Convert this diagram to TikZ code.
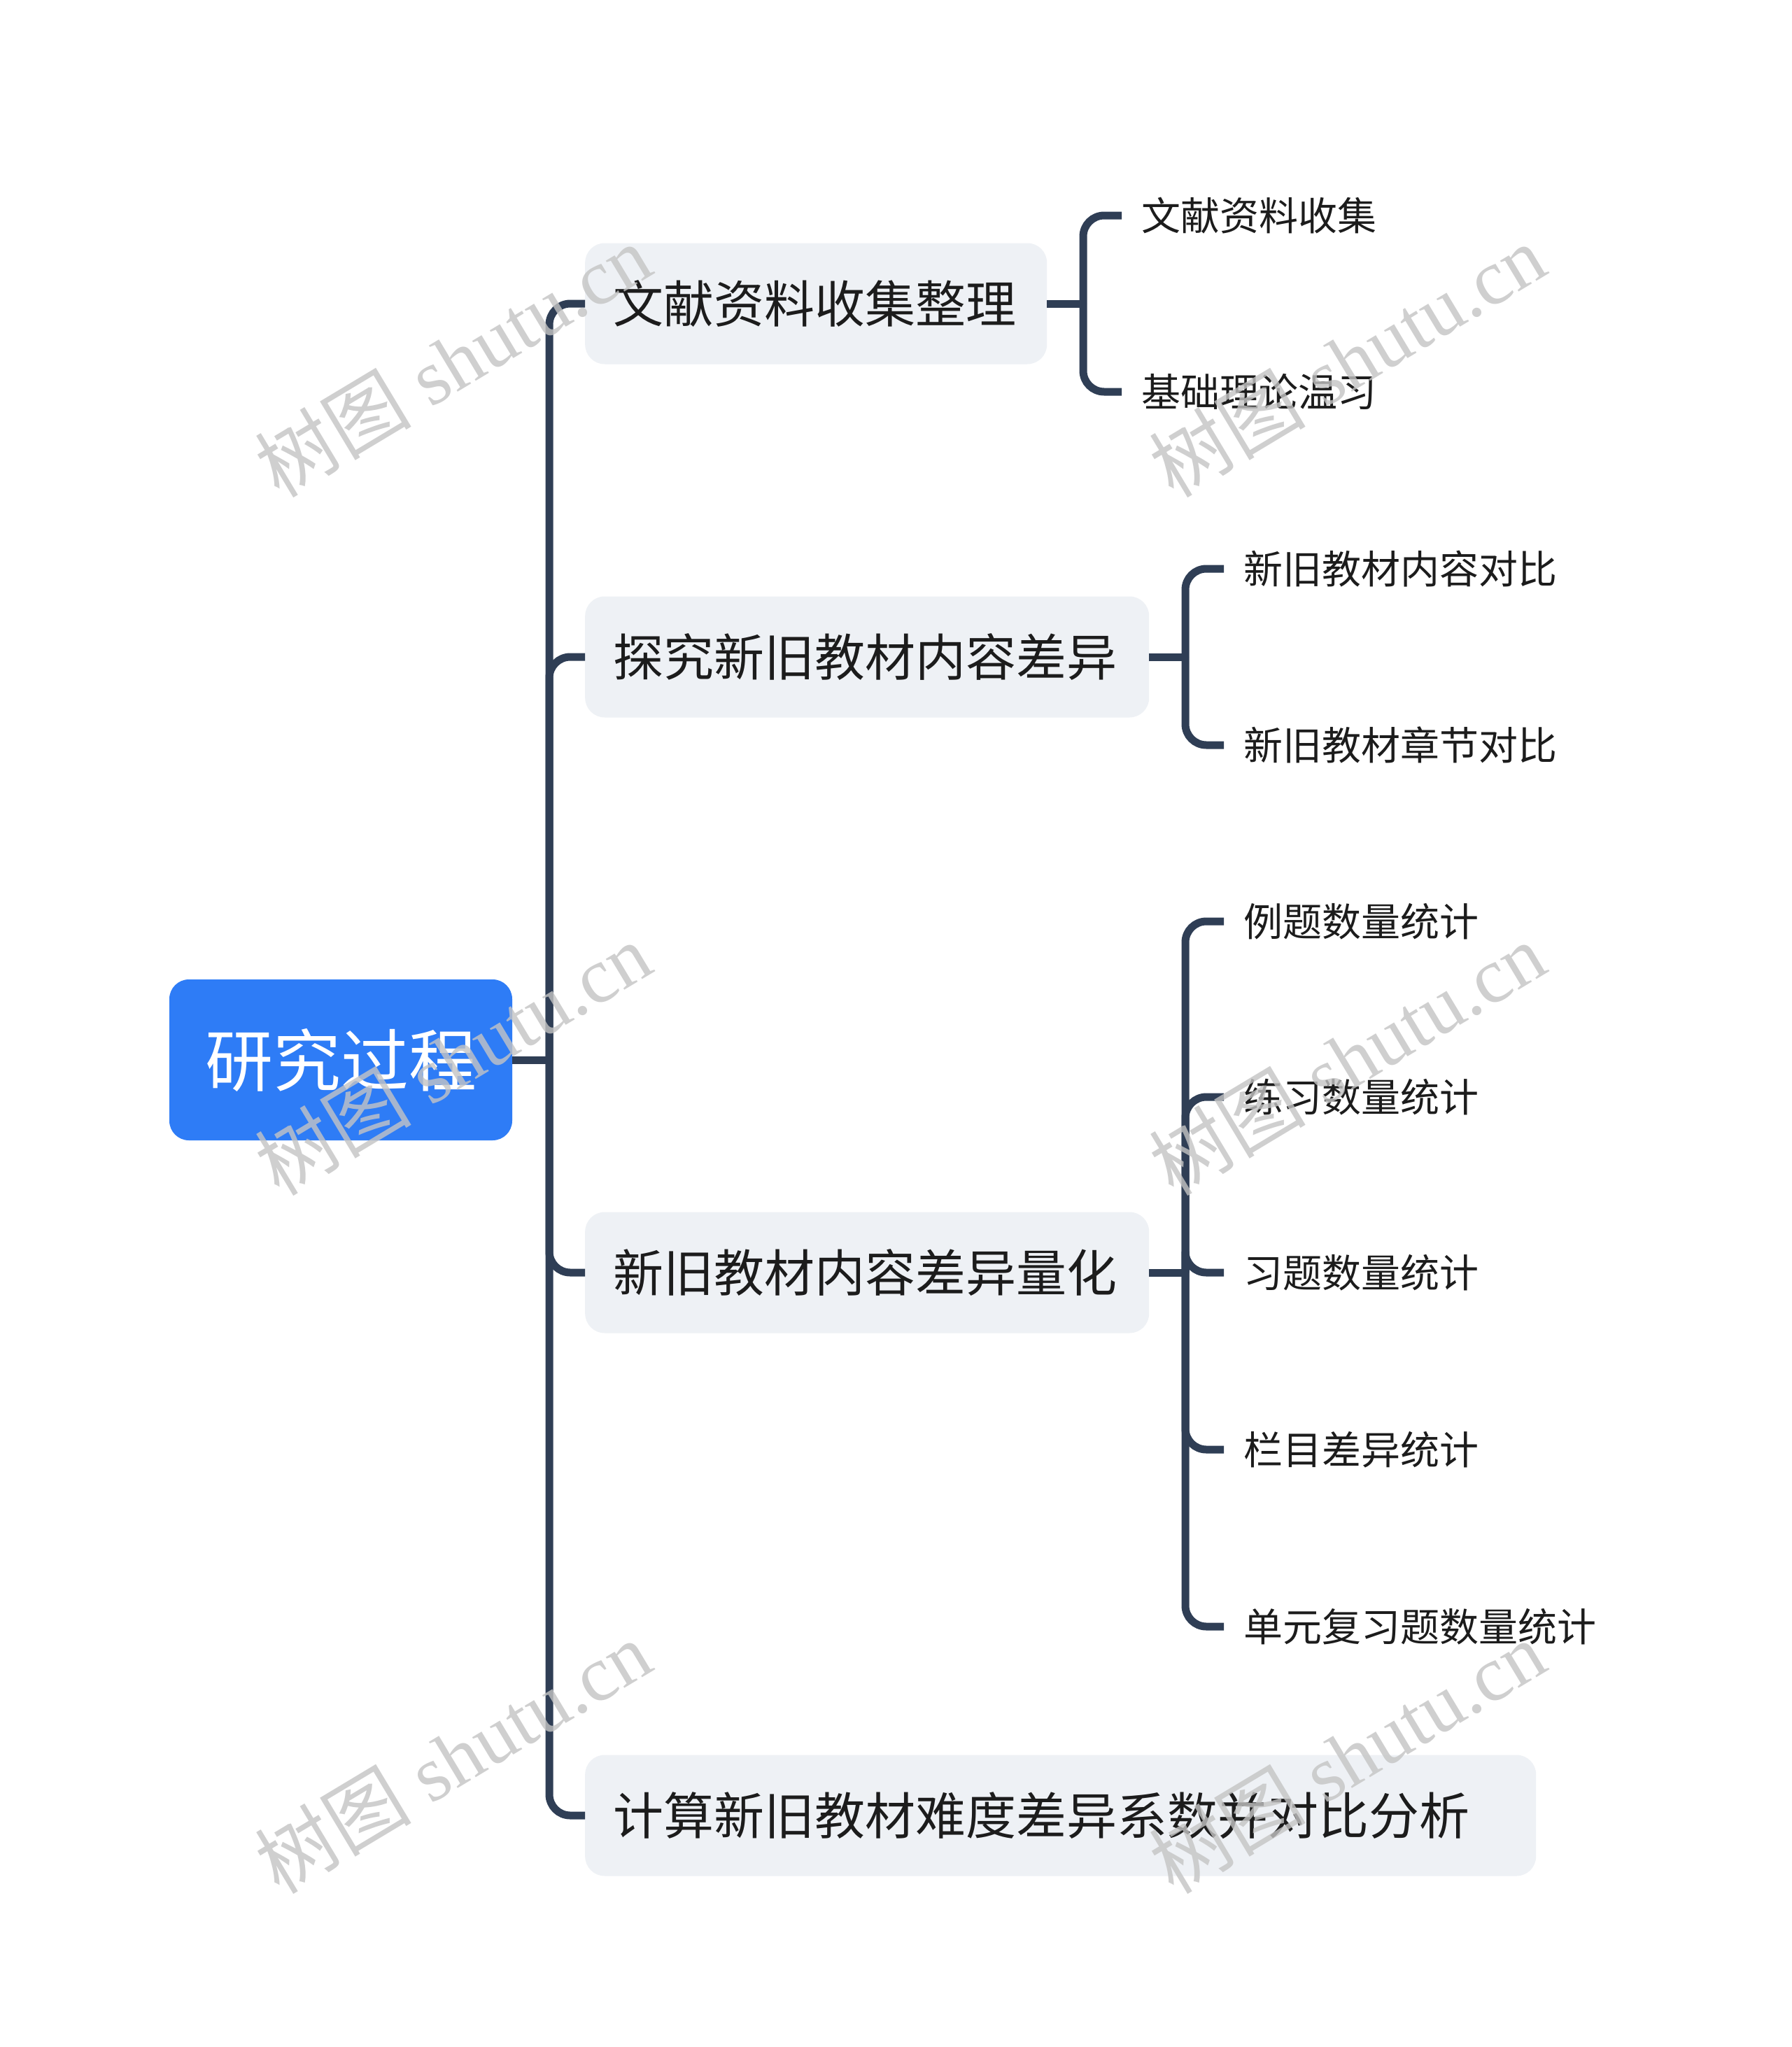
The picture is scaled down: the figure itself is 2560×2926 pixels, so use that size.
\documentclass[tikz,border=0pt]{standalone}
\usepackage{fontspec}
\newfontfamily\cjk{Noto Sans CJK SC}
\newfontfamily\wmlat{Liberation Serif}
\definecolor{linec}{HTML}{2F3E55}
\definecolor{rootblue}{HTML}{2E7CF6}
\definecolor{boxgray}{HTML}{EEF1F5}
\definecolor{txt}{HTML}{1C1C1C}
\definecolor{wmgray}{HTML}{C4C4C4}
\begin{document}
\begin{tikzpicture}[x=1pt,y=-1pt,
  conn/.style={draw=linec,line width=11pt,rounded corners=30pt},
  rootbox/.style={rounded corners=28pt,fill=rootblue,text=white,font=\cjk\fontsize{97}{110}\selectfont,minimum width=490pt,minimum height=230pt,inner sep=0pt},
  topic/.style={rounded corners=28pt,fill=boxgray,text=txt,font=\cjk\fontsize{72}{86}\selectfont,minimum height=173pt,inner xsep=40pt,inner ysep=0pt,anchor=west,align=left},
  leaf/.style={text=txt,font=\cjk\fontsize{56}{67}\selectfont,inner xsep=28pt,inner ysep=0pt,anchor=west},
  wm/.style={rotate=31,text=wmgray,opacity=0.8,font=\wmlat\fontsize{112}{130}\selectfont}
]
\fill[white] (0,0) rectangle (2560,2926);
\useasboundingbox (0,0) rectangle (2560,2926);

\node[rootbox] (root) at (487,1515) {研究过程};

\node[topic,text width=580pt] (b1) at (836,434) {文献资料收集整理};
\node[topic,text width=726pt] (b2) at (836,939) {探究新旧教材内容差异};
\node[topic,text width=726pt] (b3) at (836,1819) {新旧教材内容差异量化};
\node[topic,text width=1279pt] (b4) at (836,2595) {计算新旧教材难度差异系数并对比分析};

\coordinate (t) at (785,1515);
\draw[conn] (root.east) -- (t);
\foreach \b in {b1,b2,b3,b4} \draw[conn] (t) |- (\b.west);

% group 1
\node[leaf] (l11) at (1603,308) {文献资料收集};
\node[leaf] (l12) at (1603,560) {基础理论温习};
\coordinate (g1) at (1548,434);
\draw[conn] (b1.east) -- (g1);
\foreach \l in {l11,l12} \draw[conn] (g1) |- (\l.west);

% group 2
\node[leaf] (l21) at (1749,813) {新旧教材内容对比};
\node[leaf] (l22) at (1749,1065) {新旧教材章节对比};
\coordinate (g2) at (1694,939);
\draw[conn] (b2.east) -- (g2);
\foreach \l in {l21,l22} \draw[conn] (g2) |- (\l.west);

% group 3
\node[leaf] (l31) at (1749,1317) {例题数量统计};
\node[leaf] (l32) at (1749,1568) {练习数量统计};
\node[leaf] (l33) at (1749,1819) {习题数量统计};
\node[leaf] (l34) at (1749,2072) {栏目差异统计};
\node[leaf] (l35) at (1749,2325) {单元复习题数量统计};
\coordinate (g3) at (1694,1819);
\draw[conn] (b3.east) -- (g3);
\foreach \l in {l31,l32,l33,l34,l35} \draw[conn] (g3) |- (\l.west);

% watermarks
\node[wm] (w1) at (647,515) {{\cjk 树图} shutu.cn};
\node[wm] (w2) at (647,1513) {{\cjk 树图} shutu.cn};
\node[wm] (w3) at (647,2511) {{\cjk 树图} shutu.cn};
\node[wm] (w4) at (1925,515) {{\cjk 树图} shutu.cn};
\node[wm] (w5) at (1925,1513) {{\cjk 树图} shutu.cn};
\node[wm] (w6) at (1925,2511) {{\cjk 树图} shutu.cn};
\end{tikzpicture}
\end{document}
